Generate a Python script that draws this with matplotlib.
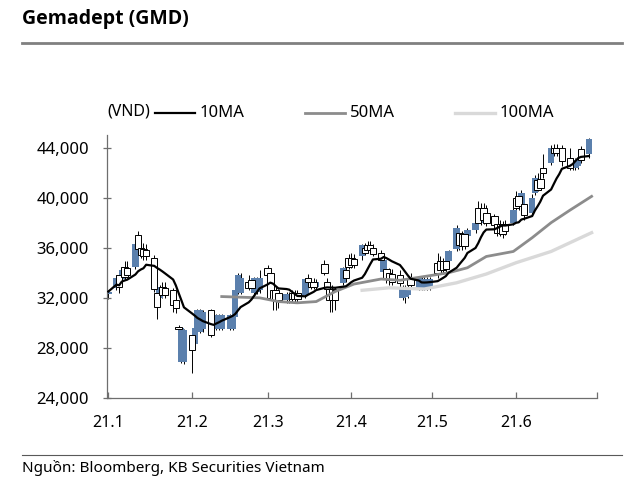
import numpy as np
import pandas as pd
import matplotlib
matplotlib.use("Agg")
import matplotlib.pyplot as plt
import matplotlib.dates as mdates
from matplotlib.lines import Line2D
from matplotlib.ticker import FuncFormatter

plt.rcParams['font.family'] = ['Noto Sans', 'DejaVu Sans']

# daily candles, thousand VND (weekdays 2021-01-01 .. 2021-06-28)
dates = pd.bdate_range('2021-01-01', '2021-06-28')

open_px = [
    # Jan
    32.3, 32.8, 33.8, 33.5, 34.5, 34.4, 34.5, 37.0, 36.0, 35.9, 35.8, 35.2, 32.4, 32.0, 32.9, 32.8, 32.6, 31.8, 29.7, 26.9, 26.9,
    # Feb
    29.0, 28.3, 29.3, 29.3, 29.5, 31.0, 29.5, 29.5, 29.5, 29.5, 29.5, 29.5, 30.5, 32.4, 32.4, 33.3, 33.4, 32.4, 32.5, 32.6,
    # Mar
    34.4, 34.0, 32.6, 32.6, 32.4, 31.8, 31.8, 32.4, 32.4, 32.4, 32.2, 33.6, 33.3, 33.3, 32.9, 34.7, 33.3, 32.7, 32.7, 32.6, 33.2, 34.2, 35.2,
    # Apr
    35.2, 35.1, 35.3, 36.0, 36.2, 36.2, 36.0, 35.6, 34.1, 34.3, 34.0, 33.9, 33.8, 32.0, 32.1, 32.2, 33.6, 32.8, 32.8, 32.8, 32.8, 32.8,
    # May
    34.8, 34.9, 34.9, 34.9, 34.9, 35.9, 37.2, 37.1, 37.1, 36.9, 37.4, 39.2, 38.0, 39.2, 38.8, 38.5, 37.9, 37.9, 37.8, 37.9, 38.0,
    # Jun
    40.0, 40.1, 39.3, 39.5, 38.8, 40.4, 41.4, 41.5, 42.4, 42.8, 44.0, 44.0, 43.6, 44.0, 43.2, 42.4, 42.4, 42.5, 43.9, 43.5,
]
high_px = [
    32.6, 33.8, 34.1, 34.4, 34.9, 34.9, 36.4, 37.3, 36.4, 36.4, 36.3, 35.4, 32.8, 33.0, 33.3, 33.3, 32.8, 32.0, 29.8, 29.7, 29.5,
    29.2, 29.7, 31.1, 31.1, 31.0, 31.1, 30.7, 30.7, 30.7, 30.7, 30.7, 30.7, 32.7, 34.0, 34.0, 33.8, 33.6, 33.7, 33.7, 34.2,
    34.6, 34.2, 32.9, 32.9, 32.7, 32.5, 32.5, 32.6, 32.6, 32.6, 33.6, 33.9, 33.6, 33.6, 33.5, 35.0, 33.6, 33.0, 33.0, 32.9, 34.5, 34.5, 35.5,
    35.6, 35.5, 36.3, 36.4, 36.5, 36.5, 36.3, 35.8, 35.2, 34.6, 34.4, 34.3, 34.2, 33.0, 33.0, 33.0, 34.0, 33.7, 33.7, 33.7, 33.7, 33.7,
    35.6, 35.3, 35.2, 35.2, 35.8, 37.8, 37.4, 37.3, 37.3, 37.6, 38.3, 39.7, 39.6, 39.6, 39.4, 38.7, 38.2, 38.2, 38.1, 38.2, 39.2,
    40.5, 40.4, 40.6, 40.0, 40.3, 41.8, 42.0, 42.0, 43.5, 44.2, 44.3, 44.3, 44.0, 44.2, 44.0, 43.2, 43.2, 43.3, 44.1, 44.8,
]
low_px = [
    31.9, 32.6, 32.4, 33.3, 33.5, 33.6, 34.3, 35.6, 35.2, 35.0, 35.0, 32.5, 30.3, 31.8, 32.0, 32.0, 30.9, 30.8, 29.5, 26.8, 26.7,
    26.0, 28.0, 29.2, 29.2, 29.3, 28.9, 29.4, 29.4, 29.4, 29.4, 29.4, 29.4, 30.4, 32.3, 32.3, 32.6, 32.6, 32.3, 32.3, 32.4,
    33.5, 31.8, 31.0, 31.0, 31.2, 31.6, 31.6, 31.7, 31.7, 31.7, 32.0, 33.1, 32.7, 32.7, 32.7, 33.8, 32.5, 30.9, 30.9, 31.0, 33.0, 33.3, 34.3,
    34.4, 34.4, 35.0, 35.4, 35.6, 35.6, 35.3, 34.8, 34.0, 33.2, 33.0, 33.0, 32.9, 31.8, 31.6, 32.0, 32.8, 32.6, 32.6, 32.6, 32.6, 32.6,
    33.6, 33.9, 33.9, 33.8, 34.7, 35.7, 35.8, 35.8, 35.9, 36.7, 37.2, 37.8, 37.8, 37.9, 37.7, 37.5, 36.9, 36.9, 36.8, 37.0, 37.8,
    38.9, 39.0, 39.1, 38.2, 38.5, 40.2, 40.5, 40.6, 41.6, 42.6, 43.3, 43.3, 43.4, 42.5, 42.2, 42.2, 42.2, 42.3, 42.8, 43.2,
]
close_px = [
    32.5, 33.6, 32.9, 34.2, 33.7, 33.8, 36.3, 35.9, 35.4, 35.3, 35.3, 32.7, 31.3, 32.9, 32.2, 32.2, 31.4, 31.2, 29.5, 29.6, 29.4,
    27.8, 29.6, 31.0, 31.0, 30.9, 29.0, 30.6, 30.6, 30.6, 30.6, 30.6, 30.6, 32.6, 33.8, 33.6, 32.8, 32.8, 33.6, 33.5, 33.6,
    33.8, 32.0, 31.8, 31.8, 31.8, 32.3, 32.3, 31.9, 31.9, 31.9, 33.5, 33.3, 32.9, 32.9, 33.3, 34.0, 32.7, 31.8, 31.8, 31.8, 34.4, 33.6, 34.5,
    34.6, 34.6, 36.2, 35.6, 35.8, 35.8, 35.5, 35.0, 35.0, 33.6, 33.4, 33.3, 33.2, 32.9, 32.9, 32.9, 33.0, 33.6, 33.5, 33.5, 33.5, 33.5,
    34.0, 34.2, 34.2, 34.3, 35.7, 37.6, 36.2, 36.1, 36.1, 37.4, 38.0, 38.0, 38.9, 38.2, 38.0, 37.8, 37.2, 37.2, 37.1, 37.3, 39.0,
    39.2, 39.3, 40.4, 38.6, 40.0, 41.6, 40.6, 40.8, 42.0, 44.0, 43.6, 43.6, 43.9, 42.9, 42.4, 43.0, 43.0, 43.1, 43.0, 44.7,
]

# longer moving averages (thousand VND)
ma50_dates = ['2021-02-12', '2021-02-26', '2021-03-05', '2021-03-12', '2021-03-19', '2021-03-26',
              '2021-04-02', '2021-04-12', '2021-04-19', '2021-04-28', '2021-05-07', '2021-05-14',
              '2021-05-21', '2021-05-31', '2021-06-07', '2021-06-14', '2021-06-21', '2021-06-29']
ma50_vals = [32.1, 32.0, 31.7, 31.6, 31.7, 32.5, 33.1, 33.5, 33.4, 33.7, 34.0, 34.4,
             35.3, 35.7, 36.8, 38.0, 39.0, 40.1]
ma100_dates = ['2021-04-05', '2021-04-15', '2021-04-28', '2021-05-10', '2021-05-21',
               '2021-06-01', '2021-06-14', '2021-06-29']
ma100_vals = [32.6, 32.8, 32.7, 33.2, 33.9, 34.8, 35.7, 37.2]

month_ticks = ['2021-01-01', '2021-02-01', '2021-03-01', '2021-04-01', '2021-05-01', '2021-06-01', '2021-07-01']
month_labels = ['21.1', '21.2', '21.3', '21.4', '21.5', '21.6', '']

BLUE = '#5b80ad'

o = np.array(open_px) * 1000
h = np.array(high_px) * 1000
l = np.array(low_px) * 1000
c = np.array(close_px) * 1000
x = mdates.date2num(dates)
ma10 = pd.Series(c).rolling(10, min_periods=1).mean().values

fig = plt.figure(figsize=(6.4, 4.88), dpi=100)
ax = fig.add_axes([107/640, 1 - 398/488, 490/640, 263/488])

up = c >= o
# wicks
ax.vlines(x, l, h, color='black', lw=0.7, zorder=1)
# bodies, wide enough that neighbouring days overlap like the original
bottom = np.minimum(o, c)
height = np.maximum(np.abs(c - o), 80)
ax.bar(x[up], height[up], bottom=bottom[up], width=2.4, color=BLUE, edgecolor='none', zorder=2)
ax.bar(x[~up], height[~up], bottom=bottom[~up], width=2.4, color='white', edgecolor='black',
       linewidth=0.7, zorder=2)

ax.plot(mdates.date2num(pd.to_datetime(ma100_dates)), np.array(ma100_vals) * 1000,
        color='#d9d9d9', lw=2.4, zorder=3)
ax.plot(mdates.date2num(pd.to_datetime(ma50_dates)), np.array(ma50_vals) * 1000,
        color='#8c8c8c', lw=2.0, zorder=3)
ax.plot(x, ma10, color='black', lw=1.6, zorder=4)

ax.set_xlim(mdates.date2num(pd.Timestamp('2020-12-31 12:00')), mdates.date2num(pd.Timestamp('2021-07-01')))
ax.set_ylim(24000, 45000)
ax.set_yticks(np.arange(24000, 44001, 4000))
ax.yaxis.set_major_formatter(FuncFormatter(lambda v, p: f'{int(v):,}'))
ax.set_xticks(mdates.date2num(pd.to_datetime(month_ticks)))
ax.set_xticklabels(month_labels)

for s in ['top', 'right']:
    ax.spines[s].set_visible(False)
for s in ['left', 'bottom']:
    ax.spines[s].set_color('#6e6e6e')
    ax.spines[s].set_linewidth(0.9)
ax.tick_params(axis='y', direction='inout', length=6, width=0.9, color='#6e6e6e',
               labelsize=12, pad=10)
ax.tick_params(axis='x', direction='in', length=4, width=0.9, color='#6e6e6e',
               labelsize=11.5, pad=12)

# header / footer
fig.text(22/640, 1 - 19/488, 'Gemadept (GMD)', fontsize=14, fontweight='bold', va='center', ha='left',
         family=['Open Sans', 'DejaVu Sans'])
fig.add_artist(Line2D([22/640, 622/640], [1 - 43/488] * 2, color='#808080', lw=2))
fig.add_artist(Line2D([22/640, 622/640], [1 - 455/488] * 2, color='#595959', lw=0.8))
fig.text(22/640, 1 - 468/488, 'Nguồn: Bloomberg, KB Securities Vietnam', fontsize=11, va='center', ha='left')

# unit + legend
fig.text(107/640, 1 - 111/488, '(VND)', fontsize=11.5, va='center', ha='left')
leg_y = 1 - 113/488
for x0, col, lw, lab in [(155, 'black', 1.6, '10MA'), (305, '#8c8c8c', 2.0, '50MA'), (455, '#d9d9d9', 2.4, '100MA')]:
    fig.add_artist(Line2D([x0/640, (x0 + 40)/640], [leg_y] * 2, color=col, lw=lw))
    fig.text((x0 + 45)/640, leg_y, lab, fontsize=12, va='center', ha='left')

fig.savefig('out.png', dpi=100)
